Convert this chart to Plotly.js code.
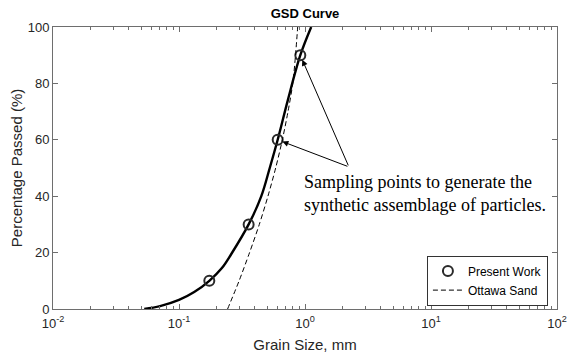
<!DOCTYPE html>
<html>
<head>
<meta charset="utf-8">
<script src="https://cdn.plot.ly/plotly-3.0.1.min.js"></script>
<style>html,body{margin:0;padding:0;background:#fff;}#chart{width:567px;height:359px;}</style>
</head>
<body>
<div id="chart"></div>
<script>
// Present Work GSD curve (grain size mm, % passed)
const presentCurveX = [0.053, 0.0708, 0.1, 0.132, 0.174, 0.219, 0.26, 0.357, 0.45, 0.525, 0.607, 0.73, 0.918, 1.12];
const presentCurveY = [0, 1, 3.2, 6, 10, 14.5, 19.5, 30, 40, 50, 60, 74, 90, 100];
// Sampling points
const sampleX = [0.174, 0.357, 0.607, 0.918];
const sampleY = [10, 30, 60, 90];
// Ottawa Sand GSD curve
const ottawaX = [0.243, 0.300, 0.363, 0.434, 0.508, 0.585, 0.661, 0.733, 0.80, 0.841, 0.875];
const ottawaY = [0, 10, 20, 30, 40, 50, 60, 70, 80, 90, 100];
// Axis ticks
const xTickVals = [0.01, 0.1, 1, 10, 100];
const xTickText = ['10<sup>-2</sup>', '10<sup>-1</sup>', '10<sup>0</sup>', '10<sup>1</sup>', '10<sup>2</sup>'];
const yTickVals = [0, 20, 40, 60, 80, 100];
// Annotation
const noteText = 'Sampling points to generate the<br>synthetic assemblage of particles.';
const arrowTail = {x: 2.23, y: 50.4};
const arrowTargets = [2, 3]; // indices into sample points
const notePos = {x: 0.942, y: 41};

const axisColor = '#6e6e6e';
const sans = 'Liberation Sans, Arial, sans-serif';

const traces = [
  {x: presentCurveX, y: presentCurveY, type: 'scatter', mode: 'lines',
   line: {color: '#000', width: 2.4, shape: 'spline', smoothing: 1}, showlegend: false, hoverinfo: 'skip'},
  {x: sampleX, y: sampleY, type: 'scatter', mode: 'markers', name: 'Present Work',
   marker: {symbol: 'circle-open', size: 10, color: '#2a2a2a', line: {width: 2, color: '#2a2a2a'}}},
  {x: ottawaX, y: ottawaY, type: 'scatter', mode: 'lines', name: 'Ottawa Sand',
   line: {color: '#000', width: 1, dash: '5px,3px', shape: 'spline', smoothing: 0.8}}
];

const annotations = arrowTargets.map(i => ({
  x: Math.log10(sampleX[i]), y: sampleY[i], xref: 'x', yref: 'y',
  ax: Math.log10(arrowTail.x), ay: arrowTail.y, axref: 'x', ayref: 'y',
  showarrow: true, arrowhead: 2, arrowsize: 1.2, arrowwidth: 1, arrowcolor: '#000',
  standoff: 5, text: ''
}));
annotations.push({
  x: Math.log10(notePos.x), y: notePos.y, xref: 'x', yref: 'y',
  xanchor: 'left', yanchor: 'middle', align: 'left', showarrow: false,
  text: noteText, font: {family: 'Liberation Serif, Times New Roman, serif', size: 18, color: '#000'}
});

const layout = {
  width: 567, height: 359,
  margin: {l: 53, r: 10, t: 27, b: 50},
  paper_bgcolor: '#fff', plot_bgcolor: '#fff',
  font: {family: sans, size: 13, color: '#262626'},
  title: {text: '<b>GSD Curve</b>', font: {family: sans, size: 13, color: '#000'}, x: 0.538, xanchor: 'center', y: 0.962, yanchor: 'middle'},
  xaxis: {
    type: 'log', range: [-2, 2], tickvals: xTickVals, ticktext: xTickText,
    ticks: 'inside', ticklen: 5, tickcolor: axisColor, tickwidth: 1,
    showline: true, linecolor: axisColor, linewidth: 1, mirror: 'ticks',
    showgrid: false, zeroline: false, ticklabelstandoff: 2,
    minor: {ticks: 'inside', ticklen: 3, tickcolor: axisColor, dtick: 'D1', showgrid: false},
    tickfont: {family: sans, size: 13, color: '#262626'},
    title: {text: 'Grain Size, mm', font: {family: sans, size: 15, color: '#262626'}, standoff: 9}
  },
  yaxis: {
    range: [0, 100], tickvals: yTickVals,
    ticks: 'inside', ticklen: 5, tickcolor: axisColor, tickwidth: 1,
    showline: true, linecolor: axisColor, linewidth: 1, mirror: 'ticks',
    showgrid: false, zeroline: false,
    tickfont: {family: sans, size: 13, color: '#262626'},
    title: {text: 'Percentage Passed (%)', font: {family: sans, size: 15, color: '#262626'}, standoff: 1}
  },
  legend: {
    x: 0.982, xanchor: 'right', y: 0.012, yanchor: 'bottom',
    bgcolor: '#fff', bordercolor: '#333', borderwidth: 1,
    font: {family: sans, size: 12, color: '#000'}, tracegroupgap: 0
  },
  annotations: annotations,
  showlegend: true
};

Plotly.newPlot('chart', traces, layout, {displayModeBar: false, staticPlot: true});
</script>
</body>
</html>
